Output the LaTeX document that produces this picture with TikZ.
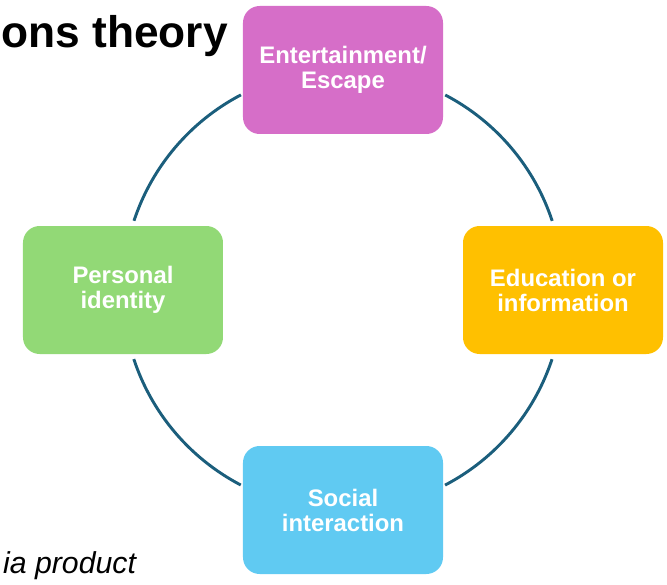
\documentclass[tikz,border=0pt]{standalone}
\usepackage{fontspec}
\setmainfont{Liberation Sans}
\usepackage{xcolor}
\usepackage{tikz}

\definecolor{escapepink}{RGB}{214,110,200}
\definecolor{eduyellow}{RGB}{255,192,0}
\definecolor{identgreen}{RGB}{146,217,118}
\definecolor{socialblue}{RGB}{96,202,242}
\definecolor{ringblue}{RGB}{27,94,124}

\begin{document}
\begin{tikzpicture}[
    need/.style={rounded corners=0.5cm, minimum width=6cm, minimum height=3.84cm, align=center, text=white, inner sep=2pt, font=\fontsize{20.4}{21.3}\selectfont\bfseries},
    ring/.style={draw=ringblue, line width=2.5pt}
]
    \useasboundingbox (-10.29,-8.82) rectangle (9.72,8.70);

    \node[anchor=base east, inner sep=0pt, font=\fontsize{37.8}{40}\selectfont\bfseries] (title) at (-3.45,7.26) {ons theory};
    \node[anchor=base west, inner sep=0pt, font=\fontsize{25.8}{28}\selectfont\itshape] (footer) at (-10.2,-8.5) {ia product};

    \node[need, fill=escapepink] (escape) at (0,6.6) {Entertainment/\\Escape};
    \node[need, fill=eduyellow] (info) at (6.6,0) {Education or\\information};
    \node[need, fill=socialblue] (social) at (0,-6.6) {Social\\interaction};
    \node[need, fill=identgreen] (identity) at (-6.6,0) {Personal\\identity};

    % ring segments, clockwise from the top box
    \draw[ring] (escape.east) ++(0.06,-0.75) arc[start angle=62.4, end angle=18.3, radius=6.6];
    \draw[ring] (info.south) ++(-0.33,-0.15) arc[start angle=-18.3, end angle=-62.4, radius=6.6];
    \draw[ring] (social.west) ++(-0.06,0.75) arc[start angle=242.4, end angle=198.3, radius=6.6];
    \draw[ring] (identity.north) ++(0.33,0.15) arc[start angle=161.7, end angle=117.6, radius=6.6];
\end{tikzpicture}
\end{document}
